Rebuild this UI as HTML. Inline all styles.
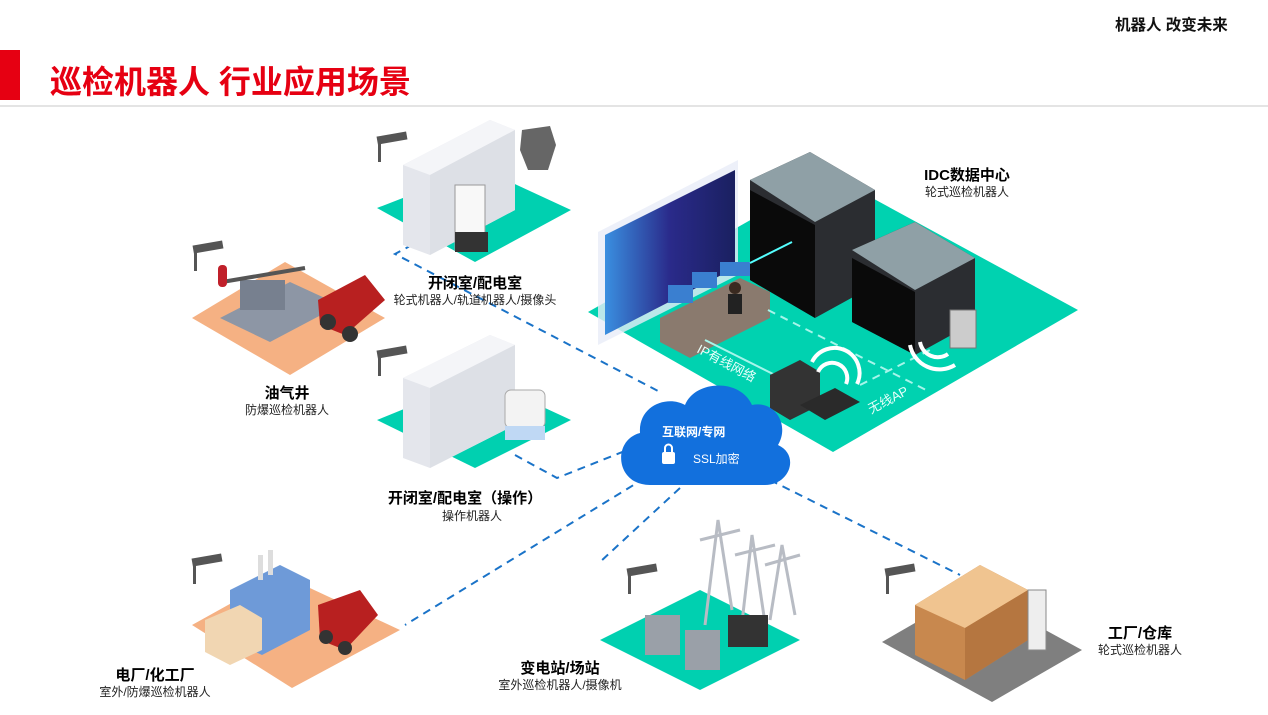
<!DOCTYPE html>
<html><head><meta charset="utf-8"><style>
body{margin:0;width:1268px;height:710px;background:#fff;overflow:hidden;font-family:"Liberation Sans","Noto Sans CJK SC",sans-serif}
svg text{font-family:"Liberation Sans","Noto Sans CJK SC",sans-serif}
</style></head><body>
<svg width="1268" height="710" viewBox="0 0 1268 710" xmlns="http://www.w3.org/2000/svg">
<defs>
<linearGradient id="scr" x1="0" y1="0" x2="1" y2="0"><stop offset="0" stop-color="#3a8fe0"/><stop offset="0.5" stop-color="#2a2a8a"/><stop offset="1" stop-color="#1a2060"/></linearGradient>
</defs>
<rect x="0" y="50" width="20" height="50" fill="#e60012"/>
<text x="50" y="93" font-size="32" font-weight="bold" fill="#e60012">巡检机器人 行业应用场景</text>
<line x1="0" y1="106" x2="1268" y2="106" stroke="#c8c8c8" stroke-width="1"/>
<text x="1115" y="30" font-size="15.5" font-weight="bold" fill="#111">机器人 改变未来</text>

<g stroke="#1a73c8" stroke-width="2" stroke-dasharray="8,6" fill="none">
<polyline points="425,238 395,254 660,392"/>
<polyline points="515,455 557,478 640,445"/>
<line x1="645" y1="478" x2="405" y2="625"/>
<line x1="680" y1="488" x2="600" y2="562"/>
<line x1="770" y1="480" x2="960" y2="575"/>
</g>

<polygon points="377,208 480,168 571,210 475,262" fill="#00d0b0"/>
<polygon points="377,420 480,378 571,420 475,468" fill="#00d0b0"/>
<polygon points="588,312 830,175 1078,310 833,452" fill="#00d2b0"/>
<polygon points="192,318 285,262 385,318 290,375" fill="#f5b183"/>
<polygon points="192,625 282,575 400,630 292,688" fill="#f5b183"/>
<polygon points="600,640 700,590 800,640 700,690" fill="#00d0b0"/>
<polygon points="882,642 972,590 1082,650 992,702" fill="#7f7f7f"/>

<polygon points="403,165 490,120 515,130 515,210 430,255 403,245" fill="#e4e6ec"/>
<polygon points="403,165 490,120 515,130 430,175" fill="#f4f5f8"/>
<polygon points="430,175 515,130 515,210 430,255" fill="#dde0e6"/>
<rect x="455" y="185" width="30" height="65" fill="#f8f8f8" stroke="#999"/>
<rect x="455" y="232" width="33" height="20" fill="#333"/>
<polygon points="522,130 550,126 556,145 548,170 528,170 520,150" fill="#666"/>
<polygon points="403,378 490,335 515,345 515,425 430,468 403,458" fill="#e4e6ec"/>
<polygon points="403,378 490,335 515,345 430,388" fill="#f4f5f8"/>
<polygon points="430,388 515,345 515,425 430,468" fill="#dde0e6"/>
<rect x="505" y="390" width="40" height="38" rx="6" fill="#f3f3f3" stroke="#aaa"/>
<rect x="505" y="426" width="40" height="14" fill="#bfd8f4"/>

<g fill="#555"><rect x="377" y="134" width="30" height="8" transform="rotate(-10 392 138)"/><rect x="378" y="144" width="3" height="18"/>
<rect x="193" y="243" width="30" height="8" transform="rotate(-10 208 247)"/><rect x="194" y="253" width="3" height="18"/>
<rect x="377" y="348" width="30" height="8" transform="rotate(-10 392 352)"/><rect x="378" y="358" width="3" height="18"/>
<rect x="192" y="556" width="30" height="8" transform="rotate(-10 207 560)"/><rect x="193" y="566" width="3" height="18"/>
<rect x="627" y="566" width="30" height="8" transform="rotate(-10 642 570)"/><rect x="628" y="576" width="3" height="18"/>
<rect x="885" y="566" width="30" height="8" transform="rotate(-10 900 570)"/><rect x="886" y="576" width="3" height="18"/></g>

<polygon points="220,318 290,282 340,305 270,342" fill="#8d96a5"/>
<rect x="240" y="280" width="45" height="30" fill="#77808f"/>
<line x1="222" y1="282" x2="305" y2="268" stroke="#555" stroke-width="4"/>
<rect x="218" y="265" width="9" height="22" rx="4" fill="#c0202a"/>
<polygon points="318,300 365,275 385,300 345,335 320,325" fill="#b82020"/>
<circle cx="328" cy="322" r="8" fill="#333"/><circle cx="350" cy="334" r="8" fill="#333"/>

<polygon points="230,590 280,565 310,580 310,630 262,655 230,640" fill="#6e9ad8"/>
<polygon points="205,620 240,605 262,618 262,650 230,665 205,652" fill="#f1d6b2"/>
<rect x="258" y="555" width="5" height="25" fill="#ddd"/><rect x="268" y="550" width="5" height="25" fill="#ddd"/>
<polygon points="318,605 360,590 378,615 345,650 320,640" fill="#b82020"/>
<circle cx="326" cy="637" r="7" fill="#333"/><circle cx="345" cy="648" r="7" fill="#333"/>

<g stroke="#b8bcc4" stroke-width="3" fill="none">
<polyline points="705,625 718,520 732,610"/><polyline points="740,640 752,535 766,630"/><polyline points="770,620 782,545 795,615"/>
<line x1="700" y1="540" x2="740" y2="530"/><line x1="735" y1="555" x2="775" y2="545"/><line x1="765" y1="565" x2="800" y2="555"/></g>
<rect x="645" y="615" width="35" height="40" fill="#9aa0a8"/><rect x="685" y="630" width="35" height="40" fill="#9aa0a8"/>
<rect x="728" y="615" width="40" height="32" fill="#333"/>

<polygon points="915,605 980,565 1028,590 1028,640 965,680 915,655" fill="#c8884e"/>
<polygon points="915,605 980,565 1028,590 965,628" fill="#f0c490"/>
<polygon points="965,628 1028,590 1028,640 965,680" fill="#b57640"/>
<rect x="1028" y="590" width="18" height="60" fill="#eee" stroke="#888"/>

<polygon points="598,232 738,160 738,275 598,345" fill="#e8ecf8" opacity="0.8"/>
<polygon points="605,235 735,170 735,268 605,335" fill="url(#scr)"/>
<polygon points="750,180 810,152 875,190 875,285 815,318 750,280" fill="#2b2d31"/>
<polygon points="750,180 810,152 875,190 815,222" fill="#8fa0a6"/>
<polygon points="750,190 815,225 815,318 750,280" fill="#0a0a0a"/>
<polygon points="852,250 915,222 975,258 975,322 915,355 852,322" fill="#2b2d31"/>
<polygon points="852,250 915,222 975,258 915,290" fill="#8fa0a6"/>
<polygon points="852,258 915,292 915,355 852,322" fill="#0a0a0a"/>
<polygon points="660,318 740,278 770,292 770,318 690,358 660,342" fill="#8a7a6e"/>
<rect x="668" y="285" width="25" height="18" fill="#3a7fd0"/><rect x="692" y="272" width="25" height="16" fill="#3a7fd0"/><rect x="720" y="262" width="30" height="14" fill="#3a7fd0"/>
<circle cx="735" cy="288" r="6" fill="#3a2a20"/><rect x="728" y="294" width="14" height="20" fill="#222"/>
<line x1="750" y1="263" x2="792" y2="242" stroke="#5ff" stroke-width="2"/>
<g stroke="#a6f5ea" stroke-width="2" stroke-dasharray="8,6" fill="none">
<polyline points="768,310 930,392"/><line x1="860" y1="385" x2="930" y2="350"/></g>
<line x1="705" y1="340" x2="775" y2="375" stroke="#a6f5ea" stroke-width="2"/>
<polygon points="770,375 800,360 820,372 820,405 790,420 770,408" fill="#333"/>
<polygon points="800,405 835,388 860,402 825,420" fill="#2a2a2a"/>
<path d="M812,362 a25,25 0 0 1 45,22" stroke="#fff" stroke-width="4" fill="none"/>
<path d="M818,372 a15,15 0 0 1 28,12" stroke="#fff" stroke-width="4" fill="none"/>
<path d="M910,345 a30,30 0 0 0 45,20" stroke="#fff" stroke-width="4" fill="none"/>
<path d="M920,342 a18,18 0 0 0 28,12" stroke="#fff" stroke-width="4" fill="none"/>
<rect x="950" y="310" width="26" height="38" fill="#ccc" stroke="#777"/>
<text x="0" y="0" font-size="13" fill="#e8fffa" transform="translate(696,352) rotate(28)">IP有线网络</text>
<text x="0" y="0" font-size="13" fill="#e8fffa" transform="translate(871,414) rotate(-28)">无线AP</text>

<path d="M650,485 C615,485 612,440 640,433 C638,405 668,395 685,405 C695,380 740,378 752,405 C775,400 790,425 778,445 C800,455 790,485 765,485 Z" fill="#1270dd"/>
<text x="662" y="436" font-size="12" font-weight="bold" fill="#fff">互联网/专网</text>
<rect x="662" y="452" width="13" height="12" rx="2" fill="#fff"/><path d="M665,452 v-4 a3.5,3.5 0 0 1 7,0 v4" stroke="#fff" stroke-width="2" fill="none"/>
<text x="693" y="463" font-size="12" fill="#fff">SSL加密</text>

<g font-weight="bold" fill="#000" font-size="15" text-anchor="middle">
<text x="475" y="288">开闭室/配电室</text>
<text x="287" y="398">油气井</text>
<text x="465" y="503">开闭室/配电室（操作）</text>
<text x="967" y="180">IDC数据中心</text>
<text x="155" y="680">电厂/化工厂</text>
<text x="560" y="673">变电站/场站</text>
<text x="1140" y="638">工厂/仓库</text>
</g>
<g fill="#222" font-size="12" text-anchor="middle">
<text x="475" y="304">轮式机器人/轨道机器人/摄像头</text>
<text x="287" y="414">防爆巡检机器人</text>
<text x="472" y="520">操作机器人</text>
<text x="967" y="196">轮式巡检机器人</text>
<text x="155" y="696">室外/防爆巡检机器人</text>
<text x="560" y="689">室外巡检机器人/摄像机</text>
<text x="1140" y="654">轮式巡检机器人</text>
</g>
</svg>
</body></html>
